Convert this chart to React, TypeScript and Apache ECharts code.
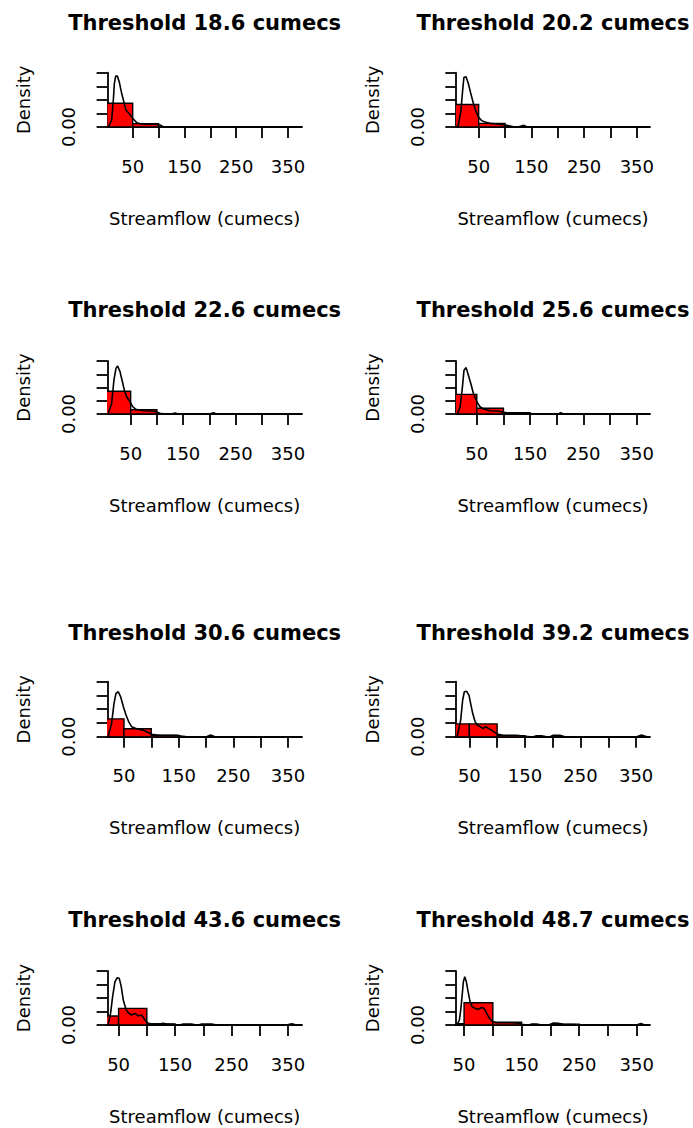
import React, { useEffect, useRef } from "react";
import * as echarts from "echarts";

const thresholds = [18.6, 20.2, 22.6, 25.6, 30.6, 39.2, 43.6, 48.7];
const binEdges = [0, 50, 100, 150, 200, 250, 300, 350, 400];
const xTickValues = [50, 100, 150, 200, 250, 300, 350];
const xLabelValues = [50, 150, 250, 350];
const xMins = [1, 7, 5.5, 11, 19.5, 26, 30, 36];
const xMaxs = [377, 375, 376.6, 375, 375.6, 375, 374.8, 373];

const hist186 = [0.0175, 0.0025, 0, 0, 0, 0, 0, 0];
const hist202 = [0.0166, 0.0027, 0, 0, 0, 0, 0, 0];
const hist226 = [0.0172, 0.0032, 0, 0, 0, 0, 0, 0];
const hist256 = [0.0148, 0.0043, 0.001, 0, 0, 0, 0, 0];
const hist306 = [0.013, 0.0058, 0.001, 0, 0, 0, 0, 0];
const hist392 = [0.0093, 0.0093, 0.0008, 0, 0, 0, 0, 0];
const hist436 = [0.0067, 0.0123, 0.0008, 0, 0, 0, 0, 0];
const hist487 = [0.001, 0.0165, 0.002, 0, 0.0006, 0, 0, 0];

const dens186 = [[3, 0], [9.4, 0.005], [12.7, 0.02], [14.6, 0.032], [17.2, 0.0375], [20.4, 0.0375], [24.2, 0.033], [28, 0.026], [32, 0.02], [37, 0.0125], [45, 0.009], [50, 0.0064], [57.7, 0.0032], [67, 0.0022], [77, 0.002], [96, 0.002], [103, 0.0015], [109, 0.0002], [116, 0], [377, 0]];
const dens202 = [[8, 0], [11.4, 0.0015], [16.5, 0.0125], [19.6, 0.027], [22, 0.0365], [26, 0.037], [30.4, 0.032], [34.8, 0.025], [39.9, 0.0175], [45, 0.0113], [50, 0.0071], [55.7, 0.0047], [62, 0.0037], [71.5, 0.0027], [84, 0.0022], [97, 0.0017], [106, 0.001], [116, 0.0002], [125, 0], [131, 0.0007], [136, 0.0012], [141, 0.0002], [147, 0], [375, 0]];
const dens226 = [[5.5, 0], [7.4, 0.0005], [13.8, 0.008], [18.2, 0.0257], [22, 0.0345], [25.2, 0.0362], [29.7, 0.032], [33.5, 0.0257], [38, 0.018], [42.4, 0.013], [48.7, 0.0093], [53.8, 0.0055], [60, 0.0035], [74, 0.0025], [90, 0.0023], [99.6, 0.0015], [106, 0.0005], [115.5, 0], [128, 0], [134.5, 0.0008], [141, 0], [201, 0], [207.6, 0.001], [214, 0], [376.6, 0]];
const dens256 = [[11, 0], [13.8, 0], [18.75, 0.0055], [22.5, 0.018], [26, 0.033], [30, 0.035], [34.4, 0.029], [38.75, 0.023], [43.75, 0.0155], [50, 0.0093], [56, 0.0055], [62.5, 0.0038], [75, 0.0025], [90.6, 0.0023], [100, 0.0013], [112.5, 0.0008], [137.5, 0.0008], [150, 0.0003], [162, 0], [203, 0], [207.5, 0.001], [212.5, 0], [375, 0]];
const dens306 = [[19.5, 0], [21.3, 0.0005], [27.4, 0.0097], [31.7, 0.024], [35.4, 0.0315], [39.6, 0.0327], [43.9, 0.029], [48.8, 0.022], [53.7, 0.0158], [58.5, 0.011], [64, 0.0073], [73, 0.0058], [85, 0.0048], [94.5, 0.003], [102.4, 0.0015], [116, 0.001], [146, 0.001], [155, 0.0005], [164.6, 0], [201, 0], [208.5, 0.0012], [216, 0], [375.6, 0]];
const dens392 = [[26, 0], [28.4, 0.0005], [34.4, 0.012], [38, 0.0267], [41, 0.0327], [45.2, 0.033], [49.4, 0.03], [52.4, 0.024], [56, 0.017], [60.2, 0.011], [64.4, 0.0085], [69.2, 0.0073], [75.2, 0.006], [80, 0.0073], [84.2, 0.006], [90.2, 0.0048], [96.2, 0.003], [102, 0.0017], [111, 0.001], [135, 0.001], [147, 0.0005], [159, 0], [165, 0], [171, 0.0007], [180, 0.0007], [189, 0], [195, 0], [201, 0.001], [213, 0.001], [222, 0], [351, 0], [360, 0.0012], [369, 0], [375, 0]];
const dens436 = [[30, 0], [31.7, 0.0007], [35.8, 0.0086], [39.4, 0.021], [43.5, 0.032], [47.6, 0.035], [51.2, 0.0345], [54.7, 0.0284], [58.3, 0.0185], [63, 0.0116], [67, 0.0091], [73, 0.0074], [79, 0.0086], [85, 0.0067], [90.8, 0.0074], [96.7, 0.0037], [102.6, 0.0012], [111.4, 0.0007], [122, 0.0008], [129, 0.0012], [135, 0.0008], [141, 0.0005], [153, 0], [158, 0], [164.6, 0.0007], [179, 0.0007], [188, 0], [192, 0], [197, 0.0007], [215, 0.0007], [223.7, 0], [347.7, 0], [356.6, 0.001], [365, 0], [374.8, 0]];
const dens487 = [[36, 0], [38.4, 0.0007], [41.9, 0.0037], [44.2, 0.011], [46.5, 0.021], [48.8, 0.032], [51.2, 0.0358], [54, 0.032], [57, 0.0247], [60.4, 0.0173], [64, 0.0136], [69, 0.0123], [75, 0.0116], [80.7, 0.013], [84.7, 0.0123], [89.4, 0.0086], [94, 0.005], [99.8, 0.0025], [106.7, 0.0017], [124, 0.0017], [141.5, 0.0015], [150, 0.0005], [159, 0], [163, 0], [167.5, 0.0007], [176, 0.0007], [185, 0], [199, 0], [205, 0.0015], [214, 0.0012], [222.5, 0.0005], [240, 0.0003], [251.5, 0], [350, 0], [357, 0.0012], [364, 0], [373, 0]];

const histograms = [hist186, hist202, hist226, hist256, hist306, hist392, hist436, hist487];
const densities = [dens186, dens202, dens226, dens256, dens306, dens392, dens436, dens487];

const colLeft = [107.3, 456];
const colWidth = [194.7, 194];
const rowTop = [72.7, 361, 681.7, 971];
const rowHeight = [54.3, 53, 55, 54];
const titleTop = [12, 299.7, 622, 909.7];

const FONT = "DejaVu Sans";

export default function App() {
  const ref = useRef<HTMLDivElement>(null);
  useEffect(() => {
    if (!ref.current) return;
    const chart = echarts.init(ref.current, null, { renderer: "svg" });
    const grids: any[] = [];
    const xAxes: any[] = [];
    const yAxes: any[] = [];
    const series: any[] = [];
    const titles: any[] = [];
    thresholds.forEach((th, i) => {
      const col = i % 2;
      const row = Math.floor(i / 2);
      grids.push({
        left: colLeft[col],
        top: rowTop[row],
        width: colWidth[col],
        height: rowHeight[row],
        containLabel: false,
      });
      titles.push({
        text: `Threshold ${th} cumecs`,
        left: colLeft[col] + colWidth[col] / 2,
        top: titleTop[row],
        textAlign: "center",
        padding: 0,
        textStyle: { fontFamily: FONT, fontWeight: "bold", fontSize: 21, color: "#000" },
      });
      xAxes.push({
        type: "value",
        gridIndex: i,
        min: xMins[i],
        max: xMaxs[i],
        axisLine: { show: true, onZero: false, lineStyle: { color: "#000", width: 1.8 } },
        axisTick: { show: true, length: 11, customValues: xTickValues, lineStyle: { color: "#000", width: 1.8 } },
        axisLabel: { customValues: xLabelValues, margin: 30, fontSize: 18, color: "#000", fontFamily: FONT },
        splitLine: { show: false },
        name: "Streamflow (cumecs)",
        nameLocation: "middle",
        nameGap: 82,
        nameTextStyle: { fontFamily: FONT, fontSize: 18, color: "#000" },
      });
      yAxes.push({
        type: "value",
        gridIndex: i,
        min: 0,
        max: 0.04,
        interval: 0.01,
        axisLine: { show: true, lineStyle: { color: "#000", width: 1.8 } },
        axisTick: { show: true, length: 10.7, lineStyle: { color: "#000", width: 1.8 } },
        axisLabel: {
          rotate: 90,
          margin: 30,
          fontSize: 18,
          color: "#000",
          fontFamily: FONT,
          formatter: (v: number) => (v === 0 ? "0.00" : ""),
        },
        splitLine: { show: false },
        name: "Density",
        nameLocation: "middle",
        nameRotate: 90,
        nameGap: 75,
        nameTextStyle: { fontFamily: FONT, fontSize: 18, color: "#000" },
      });
      const histData = histograms[i].map((h, k) => [binEdges[k], binEdges[k + 1], h]);
      series.push({
        type: "custom",
        xAxisIndex: i,
        yAxisIndex: i,
        clip: true,
        encode: { x: [0, 1], y: 2 },
        data: histData,
        renderItem: (params: any, api: any) => {
          const h = api.value(2);
          if (!h) return null;
          const p0 = api.coord([api.value(0), h]);
          const p1 = api.coord([api.value(1), 0]);
          return {
            type: "rect",
            shape: { x: p0[0], y: p0[1], width: p1[0] - p0[0], height: p1[1] - p0[1] },
            style: { fill: "#ff0000", stroke: "#000", lineWidth: 1.4 },
          };
        },
      });
      series.push({
        type: "line",
        xAxisIndex: i,
        yAxisIndex: i,
        data: densities[i],
        showSymbol: false,
        symbol: "none",
        smooth: false,
        clip: true,
        lineStyle: { color: "#000", width: 1.6 },
      });
    });
    chart.setOption({
      animation: false,
      backgroundColor: "#fff",
      title: titles,
      grid: grids,
      xAxis: xAxes,
      yAxis: yAxes,
      series,
    });
    return () => chart.dispose();
  }, []);
  return (
    <div
      ref={ref}
      style={{ position: "absolute", left: 0, top: 0, width: 693, height: 1128 }}
    />
  );
}
